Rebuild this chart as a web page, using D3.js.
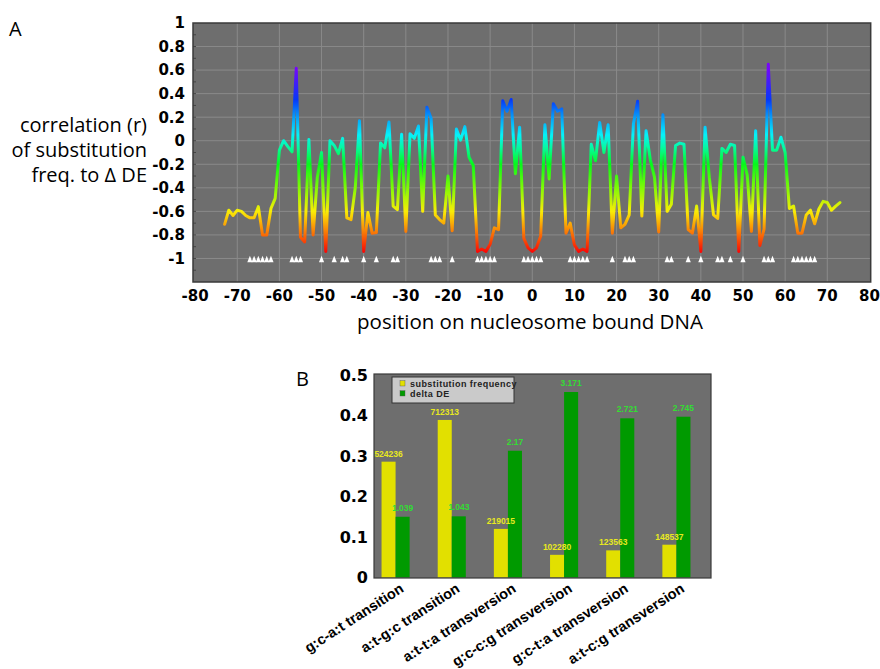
<!DOCTYPE html>
<html><head><meta charset="utf-8">
<script src="https://cdn.jsdelivr.net/npm/d3@7"></script>
<style>body{margin:0;background:#fff}</style>
</head><body>
<svg id="c" width="880" height="669"></svg>
<script>
// ---------- Panel A data ----------
const positions = [-73,-72,-71,-70,-69,-68,-67,-66,-65,-64,-63,-62,-61,-60,-59,-58,-57,-56,-55,-54,-53,-52,-51,-50,-49,-48,-47,-46,-45,-44,-43,-42,-41,-40,-39,-38,-37,-36,-35,-34,-33,-32,-31,-30,-29,-28,-27,-26,-25,-24,-23,-22,-21,-20,-19,-18,-17,-16,-15,-14,-13,-12,-11,-10,-9,-8,-7,-6,-5,-4,-3,-2,-1,0,1,2,3,4,5,6,7,8,9,10,11,12,13,14,15,16,17,18,19,20,21,22,23,24,25,26,27,28,29,30,31,32,33,34,35,36,37,38,39,40,41,42,43,44,45,46,47,48,49,50,51,52,53,54,55,56,57,58,59,60,61,62,63,64,65,66,67,68,69,70,71,72,73];
const correlation = [
 -0.71,-0.59,-0.635,-0.59,-0.60,-0.635,-0.655,-0.655,-0.56,-0.80,-0.80,-0.575,-0.49,-0.08,0.0,-0.05,-0.095,0.615,-0.82,-0.86,0.01,-0.80,-0.31,-0.10,-0.94,0.0,
 -0.04,-0.11,0.02,-0.655,-0.67,-0.40,0.17,-0.94,-0.61,-0.785,-0.78,-0.02,-0.06,0.16,-0.555,-0.585,0.055,-0.77,0.06,0.02,0.125,-0.60,0.285,0.19,
 -0.63,-0.67,-0.70,-0.30,-0.765,0.10,0.005,0.12,-0.14,-0.21,-0.94,-0.92,-0.94,-0.88,-0.74,-0.755,0.34,0.25,0.35,-0.28,0.115,-0.83,-0.91,-0.94,
 -0.91,-0.81,0.135,-0.325,0.315,0.25,0.27,-0.785,-0.70,-0.885,-0.94,-0.92,-0.94,-0.03,-0.17,0.155,-0.10,0.135,-0.785,-0.30,-0.74,-0.71,-0.63,0.145,0.335,
 -0.64,0.085,-0.16,-0.31,-0.775,0.22,-0.60,-0.54,-0.04,-0.02,-0.03,-0.755,-0.785,-0.555,-0.94,0.115,-0.31,-0.63,-0.66,-0.065,-0.10,-0.03,-0.04,-0.94,-0.14,
 -0.29,-0.77,0.085,-0.89,-0.75,0.65,-0.08,-0.08,0.03,-0.10,-0.575,-0.555,-0.785,-0.785,-0.63,-0.59,-0.705,-0.58,-0.515,-0.525,-0.59,-0.555,-0.525];
const markerPositions = [-67,-66,-65,-64,-63,-62,-57,-56,-55,-50,-47,-45,-44,-40,-37,-33,-32,-24,-23,-22,-19,-13,-12,-11,-10,-9,-2,-1,0,1,2,9,10,11,12,13,19,22,23,24,32,33,37,40,44,45,47,50,55,56,57,62,63,64,65,66,67];
const markerLevel = -1;
const xTicksA = [-80,-70,-60,-50,-40,-30,-20,-10,0,10,20,30,40,50,60,70,80];
const yTicksA = [1,0.8,0.6,0.4,0.2,0,-0.2,-0.4,-0.6,-0.8,-1];
const yTitleA = ["correlation (r)","of substitution","freq. to \u0394 DE"];
const xTitleA = "position on nucleosome bound DNA";

// ---------- Panel B data ----------
const categories = ["g:c-a:t transition","a:t-g:c transition","a:t-t:a transversion","g:c-c:g transversion","g:c-t:a transversion","a:t-c:g transversion"];
const substFreq = [0.286,0.389,0.120,0.056,0.067,0.081];
const substCounts = ["524236","712313","219015","102280","123563","148537"];
const deltaDE = [0.150,0.151,0.313,0.458,0.393,0.397];
const deltaDELabels = ["1.039","1.043","2.17","3.171","2.721","2.745"];
const yTicksB = [0,0.1,0.2,0.3,0.4,0.5];
const legendLabels = ["substitution frequency","delta DE"];

const svg = d3.select("#c");
const tickFont = "'DejaVu Sans', Verdana, sans-serif";
const titleFont = "'Open Sans', 'Liberation Sans', sans-serif";
const plotBg = "#6e6e6e", gridCol = "#8a8a8a", frameCol = "#3a3a3a";

// ================= PANEL A =================
const x = d3.scaleLinear().domain([-80.5, 80.3]).range([193, 870.7]);
const y = d3.scaleLinear().domain([-1.2, 1]).range([282, 23]);
const gA = svg.append("g");
gA.append("rect").attr("x", x.range()[0]).attr("y", y.range()[1])
  .attr("width", x.range()[1]-x.range()[0]).attr("height", y.range()[0]-y.range()[1])
  .attr("fill", plotBg);
gA.selectAll(".vg").data(xTicksA.filter(d=>d>-80&&d<80)).join("line")
  .attr("x1", d=>x(d)).attr("x2", d=>x(d)).attr("y1", y.range()[1]).attr("y2", y.range()[0])
  .attr("stroke", gridCol).attr("stroke-width", 1);
gA.selectAll(".hg").data(yTicksA.filter(d=>d<1)).join("line")
  .attr("x1", x.range()[0]).attr("x2", x.range()[1]).attr("y1", d=>y(d)).attr("y2", d=>y(d))
  .attr("stroke", gridCol).attr("stroke-width", 1);
gA.selectAll(".mt").data(d3.range(-11,10).map(d=>d/10)).join("line")
  .attr("x1", x.range()[0]).attr("x2", x.range()[0]+3).attr("y1", d=>y(d)).attr("y2", d=>y(d))
  .attr("stroke", "#444").attr("stroke-width", 1);
gA.append("rect").attr("x", x.range()[0]).attr("y", y.range()[1])
  .attr("width", x.range()[1]-x.range()[0]).attr("height", y.range()[0]-y.range()[1])
  .attr("fill", "none").attr("stroke", frameCol).attr("stroke-width", 1.5);

const defs = svg.append("defs");
const grad = defs.append("linearGradient").attr("id","rainbow")
  .attr("gradientUnits","userSpaceOnUse").attr("x1",0).attr("x2",0)
  .attr("y1", y(-0.95)).attr("y2", y(0.62));
const stops = [[-0.95,0],[-0.8,25],[-0.6,57],[-0.4,90],[-0.2,125],[-0.05,160],[0.05,182],[0.2,203],[0.35,228],[0.62,268]];
grad.selectAll("stop").data(stops).join("stop")
  .attr("offset", d=>(d[0]+0.95)/(0.62+0.95))
  .attr("stop-color", d=>d3.hsl(d[1], 0.95, 0.5).formatHex());

const line = d3.line().x(d=>x(d[0])).y(d=>y(d[1]));
gA.append("path").datum(positions.map((p,i)=>[p, correlation[i]]))
  .attr("d", line).attr("fill","none").attr("stroke","url(#rainbow)")
  .attr("stroke-width", 3).attr("stroke-linejoin","round").attr("stroke-linecap","round");

gA.selectAll(".tri").data(markerPositions).join("path")
  .attr("d", d=>{const cx=x(d), cy=y(markerLevel)+0.5; return `M${cx-2.6},${cy+3.2}L${cx+2.6},${cy+3.2}L${cx},${cy-3.2}Z`;})
  .attr("fill","#ffffff");

gA.selectAll(".yl").data(yTicksA).join("text")
  .attr("x", 185).attr("y", d=>y(d)+5.4).attr("text-anchor","end")
  .attr("font-family", tickFont).attr("font-weight","bold").attr("font-size", 15)
  .text(d=>String(d));
gA.selectAll(".xl").data(xTicksA).join("text")
  .attr("x", d=>x(d)).attr("y", 301).attr("text-anchor","middle")
  .attr("font-family", tickFont).attr("font-weight","bold").attr("font-size", 15)
  .text(d=>String(d));
gA.append("text").attr("x", 530).attr("y", 329).attr("text-anchor","middle")
  .attr("font-family", titleFont).attr("font-size", 20.5).text(xTitleA);
gA.selectAll(".yt").data(yTitleA).join("text")
  .attr("x", 147).attr("y", (d,i)=>132+i*25).attr("text-anchor","end")
  .attr("font-family", titleFont).attr("font-size", 20).text(d=>d);
svg.append("text").attr("x", 9).attr("y", 36).attr("font-family", titleFont).attr("font-size", 20).text("A");

// ================= PANEL B =================
const xb = d3.scaleBand().domain(categories).range([367.5, 704.5]).paddingInner(0.5).paddingOuter(0.25);
const yb = d3.scaleLinear().domain([0, 0.5]).range([577.5, 375]);
const bw = xb.bandwidth()/2;
const gB = svg.append("g");
const fx0 = 374, fx1 = 711, fy0 = 374, fy1 = 578;
gB.append("rect").attr("x", fx0).attr("y", fy0).attr("width", fx1-fx0).attr("height", fy1-fy0).attr("fill", plotBg);

gB.selectAll(".by").data(categories).join("rect")
  .attr("x", d=>xb(d)).attr("width", bw)
  .attr("y", (d,i)=>yb(substFreq[i])).attr("height", (d,i)=>yb(0)-yb(substFreq[i]))
  .attr("fill", "#e2e000");
gB.selectAll(".bg").data(categories).join("rect")
  .attr("x", d=>xb(d)+bw).attr("width", bw)
  .attr("y", (d,i)=>yb(deltaDE[i])).attr("height", (d,i)=>yb(0)-yb(deltaDE[i]))
  .attr("fill", "#009a00");
gB.append("rect").attr("x", fx0).attr("y", fy0).attr("width", fx1-fx0).attr("height", fy1-fy0)
  .attr("fill","none").attr("stroke", "#3a3a3a").attr("stroke-width", 1.2);

gB.selectAll(".vy").data(categories).join("text")
  .attr("x", d=>xb(d)+bw/2).attr("y", (d,i)=>yb(substFreq[i])-5).attr("text-anchor","middle")
  .attr("font-family","'Liberation Sans', Arial, sans-serif").attr("font-weight","bold").attr("font-size", 8.5)
  .attr("fill","#e8e820").text((d,i)=>substCounts[i]);
gB.selectAll(".vg").data(categories).join("text")
  .attr("x", d=>xb(d)+bw*1.5).attr("y", (d,i)=>yb(deltaDE[i])-6).attr("text-anchor","middle")
  .attr("font-family","'Liberation Sans', Arial, sans-serif").attr("font-weight","bold").attr("font-size", 8.5)
  .attr("fill","#33dd33").text((d,i)=>deltaDELabels[i]);

gB.selectAll(".ybl").data(yTicksB).join("text")
  .attr("x", 368).attr("y", d=>yb(d)+5.8).attr("text-anchor","end")
  .attr("font-family", tickFont).attr("font-weight","bold").attr("font-size", 16)
  .text(d=>String(d));
gB.selectAll(".xbl").data(categories).join("text")
  .attr("transform", d=>`translate(${xb(d)+bw+9},${591}) rotate(-33)`)
  .attr("text-anchor","end")
  .attr("font-family","'Liberation Sans', Arial, sans-serif").attr("font-weight","bold").attr("font-size", 14.5)
  .text(d=>d);

const lg = gB.append("g");
lg.append("rect").attr("x", 392).attr("y", 377).attr("width", 122).attr("height", 26)
  .attr("fill", "#cacaca").attr("stroke", "#333").attr("stroke-width", 1);
const legCols = ["#e2e000","#009a00"];
lg.selectAll(".ls").data(legendLabels).join("rect")
  .attr("x", 400).attr("y", (d,i)=>380.7+i*10).attr("width", 5).attr("height", 5.3)
  .attr("fill", (d,i)=>legCols[i]).attr("stroke","#555").attr("stroke-width",0.4);
lg.selectAll(".lt").data(legendLabels).join("text")
  .attr("x", 410).attr("y", (d,i)=>386.5+i*10)
  .attr("font-family","'Liberation Sans', Arial, sans-serif").attr("font-weight","bold").attr("font-size", 9)
  .attr("letter-spacing", 0.45).attr("fill","#222").text(d=>d);

svg.append("text").attr("x", 296).attr("y", 386).attr("font-family", titleFont).attr("font-size", 20).text("B");
</script>
</body></html>
